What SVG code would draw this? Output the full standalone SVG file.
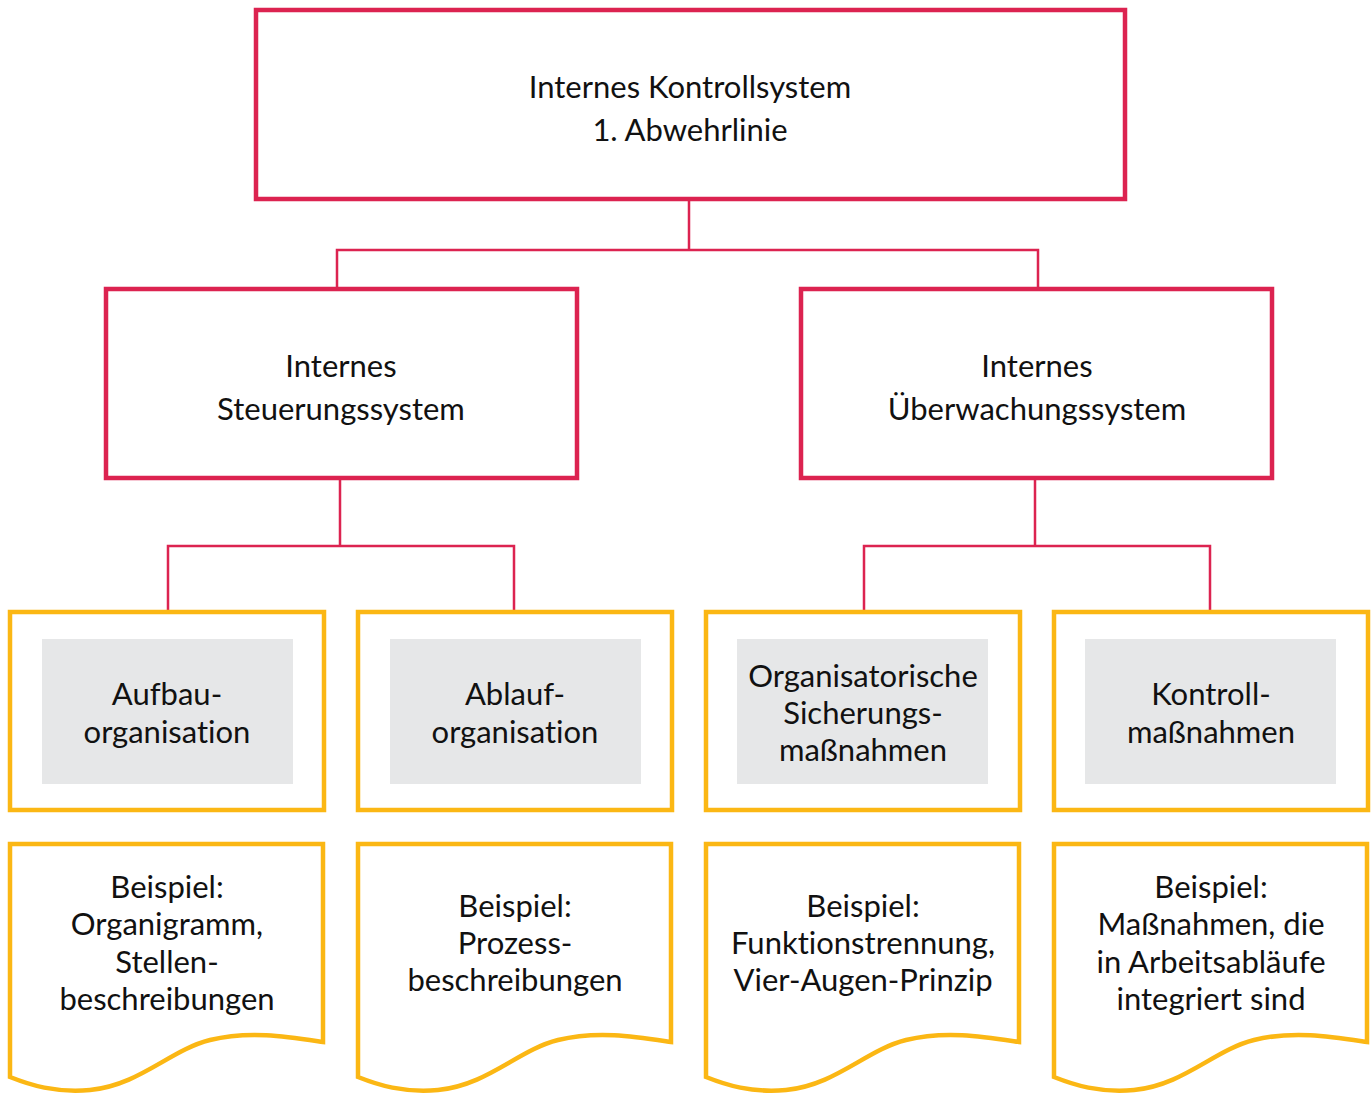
<svg xmlns="http://www.w3.org/2000/svg" width="1372" height="1093" viewBox="0 0 1372 1093">
<style>
.red{fill:#fff;stroke:#dc2350;stroke-width:4.5}
.yel{fill:#fff;stroke:#fbb714;stroke-width:4.5}
.gray{fill:#e6e7e8}
.con{fill:none;stroke:#dc2350;stroke-width:2.5}
text{font-family:Lato,"Noto Sans","Liberation Sans",sans-serif;font-size:31px;fill:#111;text-anchor:middle;font-variant-ligatures:none}
</style>
<rect width="1372" height="1093" fill="#fff"/>
<g id="connectors">
<path class="con" d="M689,199 V250 M337,289 V250 H1038 V289"/>
<path class="con" d="M340,478 V546 M168,611 V546 H514 V611"/>
<path class="con" d="M1035,478 V546 M864,611 V546 H1210 V611"/>
</g>
<g id="ikS">
<rect class="red" x="256" y="10" width="869" height="189"/>
<text x="690" y="98">Internes Kontrollsystem</text>
<text x="690" y="141">1. Abwehrlinie</text>
</g>
<g id="steuerung">
<rect class="red" x="106" y="289" width="471" height="189"/>
<text x="341" y="377">Internes</text>
<text x="341" y="420">Steuerungssystem</text>
</g>
<g id="ueberwachung">
<rect class="red" x="801" y="289" width="471" height="189"/>
<text x="1037" y="377">Internes</text>
<text x="1037" y="420">Überwachungssystem</text>
</g>
<g id="aufbau">
<rect class="yel" x="10" y="612" width="314" height="198"/>
<rect class="gray" x="42" y="639" width="251" height="145"/>
<text x="167" y="705">Aufbau-</text>
<text x="167" y="743">organisation</text>
</g>
<g id="ablauf">
<rect class="yel" x="358" y="612" width="314" height="198"/>
<rect class="gray" x="390" y="639" width="251" height="145"/>
<text x="515" y="705">Ablauf-</text>
<text x="515" y="743">organisation</text>
</g>
<g id="sicherung">
<rect class="yel" x="706" y="612" width="314" height="198"/>
<rect class="gray" x="737" y="639" width="251" height="145"/>
<text x="863" y="687">Organisatorische</text>
<text x="863" y="724">Sicherungs-</text>
<text x="863" y="761">maßnahmen</text>
</g>
<g id="kontroll">
<rect class="yel" x="1054" y="612" width="314" height="198"/>
<rect class="gray" x="1085" y="639" width="251" height="145"/>
<text x="1211" y="705">Kontroll-</text>
<text x="1211" y="743">maßnahmen</text>
</g>
<g id="bsp1">
<path class="yel" d="M10,844 H323 V1042 C290,1037 250,1030 210,1040 C170,1050 140,1085 90,1090 C55,1093 30,1085 10,1077 Z"/>
<text x="167" y="898">Beispiel:</text>
<text x="167" y="935">Organigramm,</text>
<text x="167" y="973">Stellen-</text>
<text x="167" y="1010">beschreibungen</text>
</g>
<g id="bsp2">
<path class="yel" d="M358,844 H671 V1042 C638,1037 598,1030 558,1040 C518,1050 488,1085 438,1090 C403,1093 378,1085 358,1077 Z"/>
<text x="515" y="917">Beispiel:</text>
<text x="515" y="954">Prozess-</text>
<text x="515" y="991">beschreibungen</text>
</g>
<g id="bsp3">
<path class="yel" d="M706,844 H1019 V1042 C986,1037 946,1030 906,1040 C866,1050 836,1085 786,1090 C751,1093 726,1085 706,1077 Z"/>
<text x="863" y="917">Beispiel:</text>
<text x="863" y="954">Funktionstrennung,</text>
<text x="863" y="991">Vier-Augen-Prinzip</text>
</g>
<g id="bsp4">
<path class="yel" d="M1054,844 H1367 V1042 C1334,1037 1294,1030 1254,1040 C1214,1050 1184,1085 1134,1090 C1099,1093 1074,1085 1054,1077 Z"/>
<text x="1211" y="898">Beispiel:</text>
<text x="1211" y="935">Maßnahmen, die</text>
<text x="1211" y="973">in Arbeitsabläufe</text>
<text x="1211" y="1010">integriert sind</text>
</g>
</svg>
